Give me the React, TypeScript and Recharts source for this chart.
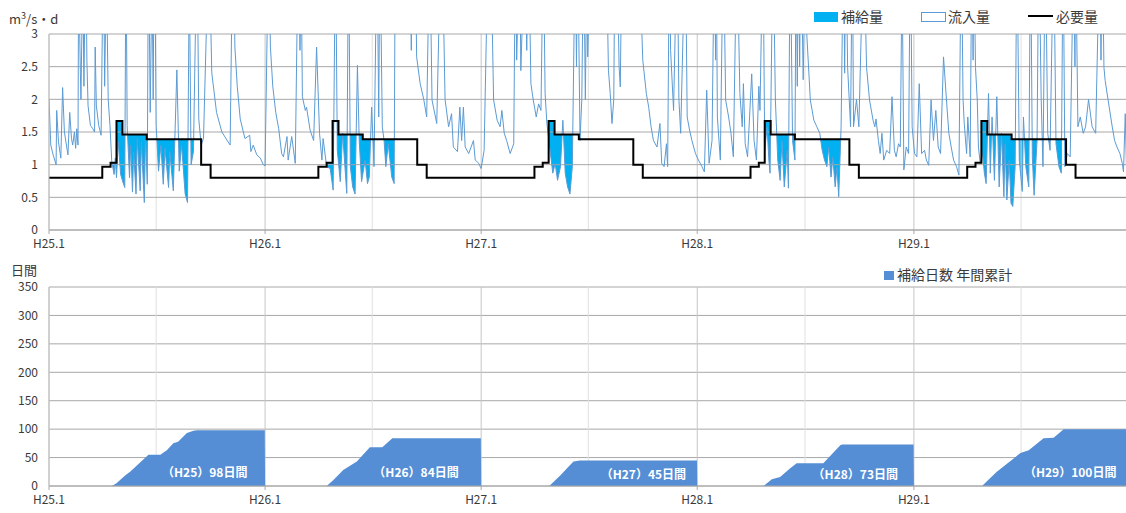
import React from 'react';
import { ComposedChart, Line, Area, XAxis, YAxis, CartesianGrid, ReferenceLine, ReferenceDot } from 'recharts';

const FONT = '"Noto Sans CJK JP", "Noto Sans", sans-serif';
const TOTAL_DAYS = 1826;
const yearStarts = [0, 365, 730, 1095, 1461];
const yearTickLabels = ['H25.1', 'H26.1', 'H27.1', 'H28.1', 'H29.1'];
const midYearDays = [181, 546, 911, 1277, 1642];
const flowTicks = [0, 0.5, 1, 1.5, 2, 2.5, 3];
const dayTicks = [0, 50, 100, 150, 200, 250, 300, 350];

// required amount (必要量) schedule per year: day-of-year where each step starts, and its value
const reqStepDoy = [0, 90, 104, 114, 124, 165, 257, 273];
const reqStepValue = [0.8, 0.97, 1.03, 1.67, 1.46, 1.39, 1.0, 0.8];
// supply season (day-of-year)
const supplySeasonDoy = [90, 273];

// inflow (流入量): [day since H25.1.1, m3/s]
const inflow: [number, number][] = [
  // H25
  [0,2.0],[3,1.3],[7,1.15],[12,1.0],[13,1.83],[16,1.35],[20,1.1],[23,2.18],[26,1.5],[32,1.15],[35,1.8],[38,1.4],[40,1.3],[43,1.5],[45,1.25],[47,1.55],[49,1.3],[50,4],[53,2.4],[54,2.0],[57,4],[59,2.2],[62,4.5],[64,2.6],[66,1.9],[70,1.6],[74,1.55],[77,1.5],[78,2.8],[80,1.9],[84,1.6],[88,1.45],[92,4.5],[94,2.2],[97,4],[100,2.0],[103,1.6],[106,1.05],[110,0.85],[112,1.1],[114,0.8],[117,1.35],[121,0.85],[126,0.7],[128,0.65],[130,4.5],[132,1.6],[136,0.8],[138,1.3],[141,0.58],[143,1.2],[147,0.55],[149,1.4],[154,0.6],[156,1.35],[161,0.42],[163,1.45],[166,0.7],[168,4.5],[171,1.8],[174,4],[176,2.0],[178,5],[181,1.6],[185,0.9],[189,1.3],[193,0.7],[196,1.25],[202,0.65],[204,1.2],[210,0.6],[216,2.45],[220,0.9],[224,1.3],[230,0.55],[234,0.42],[237,4],[240,1.0],[244,1.2],[250,4.5],[253,1.7],[257,1.3],[261,1.4],[270,4.5],[275,2.4],[283,1.8],[292,1.5],[306,1.3],[311,5],[314,2.8],[318,2.2],[323,1.7],[331,1.4],[339,1.45],[341,1.2],[345,1.3],[351,1.15],[357,1.1],[362,1.0],
  // H26
  [365,0.98],[371,4.5],[374,2.8],[378,2.2],[383,1.8],[388,1.55],[393,1.17],[396,1.12],[402,1.43],[404,1.07],[410,1.43],[416,1.02],[421,4.5],[424,2.75],[426,4],[428,2.04],[433,1.83],[435,1.88],[441,1.53],[447,1.37],[452,2.8],[457,1.48],[461,1.07],[463,1.4],[469,0.97],[475,0.94],[480,0.61],[484,4.5],[487,1.22],[492,0.74],[496,1.48],[503,0.56],[506,4.5],[509,0.97],[513,0.66],[517,0.55],[521,2.52],[524,1.37],[528,0.74],[534,1.07],[538,0.71],[541,0.81],[545,1.88],[549,0.97],[554,4.5],[557,1.73],[559,4.5],[563,1.58],[566,1.37],[569,0.97],[573,1.32],[579,0.81],[583,0.71],[585,4.5],[595,5],[605,4],[610,4.5],[612,2.75],[613,4.5],[618,5],[621,2.65],[627,2.24],[633,2.0],[638,1.73],[643,4.5],[647,1.99],[655,1.63],[662,4.5],[665,4],[669,2.0],[675,1.58],[680,1.78],[683,1.27],[690,1.2],[694,1.88],[697,1.37],[700,1.88],[703,1.27],[709,1.17],[717,1.37],[720,1.07],[726,1.02],
  // H27
  [730,0.94],[735,1.22],[742,4.5],[744,3.0],[746,4.5],[751,1.99],[757,1.68],[762,1.58],[765,1.83],[769,1.48],[773,1.37],[779,1.17],[785,1.32],[788,4.5],[790,2.6],[795,4.5],[797,2.44],[804,4.5],[807,2.75],[810,4.5],[814,2.24],[818,1.99],[823,1.73],[827,1.93],[831,1.83],[835,4.5],[838,2.09],[841,1.63],[847,1.17],[851,0.87],[855,1.02],[859,0.76],[864,0.97],[868,1.68],[872,0.87],[876,0.66],[880,0.55],[884,0.97],[889,4.5],[891,2.5],[893,4.5],[897,1.37],[900,2.0],[903,4.5],[906,2.0],[909,4.5],[910,2.65],[913,4],[925,5],[941,4.5],[945,2.44],[948,2.09],[951,1.63],[954,2.0],[956,4.5],[959,4.5],[963,2.5],[965,2.19],[968,4.5],[985,5],[996,4.5],[1003,2.6],[1009,2.09],[1013,1.88],[1017,1.58],[1021,1.37],[1027,1.27],[1032,1.63],[1035,1.02],[1039,0.97],[1043,1.32],[1045,0.97],[1048,4.5],[1050,2.75],[1055,1.83],[1061,4.5],[1064,2.0],[1067,1.48],[1075,4.5],[1078,1.73],[1082,1.53],[1086,1.37],[1092,1.17],
  // H28
  [1097,1.07],[1103,0.97],[1107,0.89],[1111,2.14],[1115,1.02],[1120,1.37],[1124,4.5],[1126,2.6],[1127,4.5],[1129,1.73],[1134,1.07],[1139,4.5],[1143,1.99],[1148,1.73],[1152,1.48],[1156,1.12],[1162,4.5],[1167,2.09],[1171,1.58],[1173,2.24],[1176,1.32],[1180,1.12],[1187,2.39],[1191,1.37],[1195,1.07],[1199,2.2],[1201,1.83],[1206,4.5],[1209,1.22],[1213,1.58],[1216,1.07],[1218,0.87],[1223,4.5],[1227,1.99],[1231,1.07],[1235,0.76],[1238,1.37],[1242,0.66],[1247,1.22],[1249,0.64],[1252,4.5],[1256,1.37],[1260,1.07],[1262,4.5],[1264,2.2],[1266,4.5],[1268,2.5],[1270,4.5],[1274,2.3],[1278,4.5],[1280,3.0],[1286,1.99],[1292,1.68],[1297,1.58],[1302,1.48],[1306,1.22],[1310,1.07],[1314,0.97],[1317,1.27],[1321,0.81],[1324,1.12],[1328,0.66],[1331,0.97],[1334,0.51],[1338,1.58],[1342,4.5],[1344,2.4],[1346,4.5],[1349,2.49],[1354,1.58],[1357,4.5],[1359,1.58],[1364,2.0],[1368,1.58],[1376,4.5],[1381,2.49],[1386,1.99],[1392,1.68],[1395,1.58],[1397,1.7],[1401,1.37],[1404,1.17],[1407,1.48],[1410,1.07],[1415,1.22],[1420,1.17],[1424,2.04],[1428,1.22],[1431,1.12],[1435,1.32],[1438,1.27],[1441,4],[1444,0.92],[1448,1.27],[1452,1.17],[1455,4.5],[1458,1.58],
  // H29
  [1462,1.17],[1466,1.12],[1470,2.24],[1474,1.17],[1479,1.22],[1482,1.07],[1486,0.99],[1490,1.99],[1494,1.37],[1498,1.83],[1502,1.27],[1506,1.17],[1511,2.65],[1516,1.99],[1520,1.48],[1524,1.27],[1528,1.07],[1533,0.97],[1537,0.84],[1541,4.5],[1544,2.0],[1546,1.63],[1550,1.17],[1552,1.73],[1556,1.12],[1559,4.5],[1561,2.6],[1562,4.5],[1565,2.49],[1568,1.99],[1570,1.27],[1573,1.02],[1577,1.17],[1580,0.87],[1583,0.71],[1587,2.09],[1590,0.87],[1593,1.73],[1597,0.76],[1601,2.04],[1605,0.66],[1609,1.48],[1613,0.51],[1615,1.32],[1618,0.46],[1622,1.07],[1625,0.41],[1628,0.36],[1632,0.97],[1635,4.5],[1639,1.07],[1644,0.59],[1646,1.73],[1650,0.97],[1655,0.66],[1658,4.5],[1661,1.12],[1664,0.53],[1669,1.37],[1672,4.5],[1676,2.0],[1679,0.97],[1683,4.5],[1687,1.48],[1691,1.22],[1697,4.5],[1701,1.32],[1706,0.97],[1710,0.87],[1713,4.5],[1716,0.97],[1720,1.17],[1725,1.12],[1731,4.5],[1733,2.5],[1734,4.5],[1738,1.58],[1742,1.73],[1747,1.48],[1751,1.58],[1756,2.0],[1762,1.58],[1768,1.48],[1775,4.5],[1777,2.6],[1779,4.5],[1782,2.49],[1784,2.29],[1790,1.93],[1796,1.58],[1800,1.37],[1804,1.27],[1809,1.17],[1813,1.02],[1815,0.89],[1818,1.78],[1820,0.97],[1826,0.95],
];

// cumulative supply days per year (補給日数 年間累計): [day, days]
const supplyDaysCum: [number, number][] = [
  [0,0],[106,0],[114,5],[129,19],[137,25],[168,55],[188,55],[199,63],[210,75],[218,78],[233,93],[244,97],[250,98],[364.5,98],[365,0],
  [469,0],[480,10],[497,28],[520,43],[542,68],[563,68],[580,84],[729.5,84],[730,0],
  [845,0],[864,19],[875,31],[886,43],[897,45],[1094.5,45],[1095,0],
  [1207,0],[1221,12],[1235,16],[1252,31],[1263,40],[1308,40],[1337,72],[1340,73],[1460.5,73],[1461,0],
  [1576,0],[1601,25],[1630,49],[1641,58],[1655,63],[1680,84],[1697,85],[1714,100],[1826,100],
];

const annualLabelDay = [263, 620, 1004, 1362, 1725];
const annualLabelValue = [23, 23, 20, 20, 23];
const annualLabelText = ['（H25）98日間', '（H26）84日間', '（H27）45日間', '（H28）73日間', '（H29）100日間'];

// ---------- build tables ----------
const reqBoundaries: { d: number; v: number }[] = [];
yearStarts.forEach((ys) => reqStepDoy.forEach((doy, i) => reqBoundaries.push({ d: ys + doy, v: reqStepValue[i] })));

function reqAt(d: number) {
  let v = reqBoundaries[0].v;
  for (const b of reqBoundaries) {
    if (b.d <= d) v = b.v;
    else break;
  }
  return v;
}
function inSeason(d: number) {
  let ys = 0;
  for (const y of yearStarts) if (y <= d) ys = y;
  const doy = d - ys;
  return doy >= supplySeasonDoy[0] && doy < supplySeasonDoy[1];
}
function flowAt(d: number) {
  if (d <= inflow[0][0]) return inflow[0][1];
  for (let i = 1; i < inflow.length; i++) {
    const [d1, v1] = inflow[i];
    if (d1 >= d) {
      const [d0, v0] = inflow[i - 1];
      return v0 + ((v1 - v0) * (d - d0)) / (d1 - d0);
    }
  }
  return inflow[inflow.length - 1][1];
}

type Row = { d: number; flow?: number; req?: number; supply?: [number, number] };
const flowMap = new Map<number, number>(inflow.map((p) => [p[0], p[1]]));
const xs = Array.from(new Set<number>([...inflow.map((p) => p[0]), ...reqBoundaries.map((b) => b.d), TOTAL_DAYS])).sort((a, b) => a - b);
const boundarySet = new Set(reqBoundaries.map((b) => b.d));
const topRows: Row[] = [];
for (let i = 0; i < xs.length; i++) {
  const x = xs[i];
  const f = flowAt(x);
  if (boundarySet.has(x) && x > 0) {
    const rPrev = reqAt(x - 1e-6);
    const sPrev = inSeason(x - 1e-6);
    topRows.push({ d: x, req: rPrev, supply: sPrev ? [Math.min(f, rPrev), rPrev] : undefined });
  }
  const r = reqAt(x);
  const s = inSeason(x);
  topRows.push({ d: x, flow: flowMap.get(x), req: r, supply: s ? [Math.min(f, r), r] : undefined });
  if (s && i + 1 < xs.length) {
    const xn = xs[i + 1];
    const fn = flowAt(xn);
    if ((f - r) * (fn - r) < 0) {
      const t = (r - f) / (fn - f);
      topRows.push({ d: x + t * (xn - x), req: r, supply: [r, r] });
    }
  }
}
const bottomRows = supplyDaysCum.map(([d, v]) => ({ d, v }));

const tickStyle = { fontSize: 12, fill: '#3a3a3a' };
const fmtYear = (v: number) => {
  const i = yearStarts.indexOf(v);
  return i >= 0 ? yearTickLabels[i] : '';
};

export default function App() {
  const txt: React.CSSProperties = { position: 'absolute', fontSize: 14, lineHeight: '18px', whiteSpace: 'nowrap', color: '#3a3a3a' };
  const vlines = (key: string) => [
    ...midYearDays.map((d) => (
      <ReferenceLine key={key + 'm' + d} x={d} stroke="#e0e0e0" strokeWidth={1} zIndex={150} />
    )),
    ...yearStarts.map((d) => (
      <ReferenceLine key={key + 'y' + d} x={d} stroke="#c6c6c6" strokeWidth={1} zIndex={150} />
    )),
  ];
  return (
    <div style={{ position: 'absolute', left: 0, top: 0, width: 1126, height: 513, overflow: 'hidden', background: '#fff', fontFamily: FONT }}>
      <div style={{ position: 'absolute', left: 0, top: 0 }}>
        <ComposedChart width={1140} height={260} data={topRows} margin={{ top: 34, right: 10, bottom: 0, left: 0 }}>
          <XAxis
            dataKey="d"
            type="number"
            domain={[0, TOTAL_DAYS]}
            allowDataOverflow
            ticks={yearStarts}
            tickFormatter={fmtYear}
            interval={0}
            height={30}
            tick={tickStyle}
            tickSize={4}
            tickMargin={5}
            stroke="#a8a8a8"
          />
          <YAxis
            type="number"
            domain={[0, 3]}
            allowDataOverflow
            ticks={flowTicks}
            interval={0}
            width={49}
            tick={tickStyle}
            tickLine={false}
            tickSize={0}
            tickMargin={11}
            axisLine={{ stroke: '#bdbdbd' }}
          />
          <Area dataKey="supply" type="linear" fill="#00b0f0" fillOpacity={1} stroke="none" isAnimationActive={false} dot={false} activeDot={false} />
          {vlines('t')}
          <CartesianGrid vertical={false} stroke="#a8a8a8" zIndex={160} />
          <Line dataKey="flow" type="linear" stroke="#5b9bd5" strokeWidth={1} dot={false} activeDot={false} connectNulls isAnimationActive={false} />
          <Line dataKey="req" type="linear" stroke="#000" strokeWidth={2} dot={false} activeDot={false} connectNulls isAnimationActive={false} />
        </ComposedChart>
      </div>

      <div style={{ position: 'absolute', left: 0, top: 255 }}>
        <ComposedChart width={1140} height={258} data={bottomRows} margin={{ top: 32, right: 10, bottom: 0, left: 0 }}>
          <CartesianGrid vertical={false} stroke="#a8a8a8" />
          {vlines('b')}
          <XAxis
            dataKey="d"
            type="number"
            domain={[0, TOTAL_DAYS]}
            allowDataOverflow
            ticks={yearStarts}
            tickFormatter={fmtYear}
            interval={0}
            height={27}
            tick={tickStyle}
            tickSize={4}
            tickMargin={5}
            stroke="#a8a8a8"
          />
          <YAxis
            type="number"
            domain={[0, 350]}
            ticks={dayTicks}
            interval={0}
            width={49}
            tick={tickStyle}
            tickLine={false}
            tickSize={0}
            tickMargin={11}
            axisLine={{ stroke: '#bdbdbd' }}
          />
          <Area dataKey="v" type="linear" fill="#558ed5" fillOpacity={1} stroke="none" isAnimationActive={false} dot={false} activeDot={false} zIndex={300} />
          {annualLabelDay.map((d, i) => (
            <ReferenceDot
              key={'lbl' + i}
              x={d}
              y={annualLabelValue[i]}
              r={0}
              fill="none"
              stroke="none"
              label={{ value: annualLabelText[i], position: 'center', fill: '#ffffff', fontSize: 12, fontWeight: 'bold' }}
            />
          ))}
        </ComposedChart>
      </div>

      {/* axis titles */}
      <div style={{ ...txt, left: 9, top: 10, fontSize: 13 }}>
        m<span style={{ fontSize: 9, verticalAlign: 'super', lineHeight: 0 }}>3</span>/s・d
      </div>
      <div style={{ ...txt, left: 11, top: 261, fontSize: 13 }}>日間</div>

      {/* top legend */}
      <div style={{ position: 'absolute', left: 814, top: 12, width: 24, height: 10, background: '#00b0f0' }} />
      <div style={{ ...txt, left: 841, top: 7 }}>補給量</div>
      <div style={{ position: 'absolute', left: 921, top: 12, width: 25, height: 10, border: '1px solid #5b9bd5', boxSizing: 'border-box', background: '#fff' }} />
      <div style={{ ...txt, left: 948, top: 7 }}>流入量</div>
      <div style={{ position: 'absolute', left: 1028, top: 15, width: 25, height: 2, background: '#000' }} />
      <div style={{ ...txt, left: 1056, top: 7 }}>必要量</div>

      {/* bottom legend */}
      <div style={{ position: 'absolute', left: 884, top: 271, width: 10, height: 9, background: '#558ed5' }} />
      <div style={{ ...txt, left: 897, top: 265 }}>補給日数 年間累計</div>
    </div>
  );
}
